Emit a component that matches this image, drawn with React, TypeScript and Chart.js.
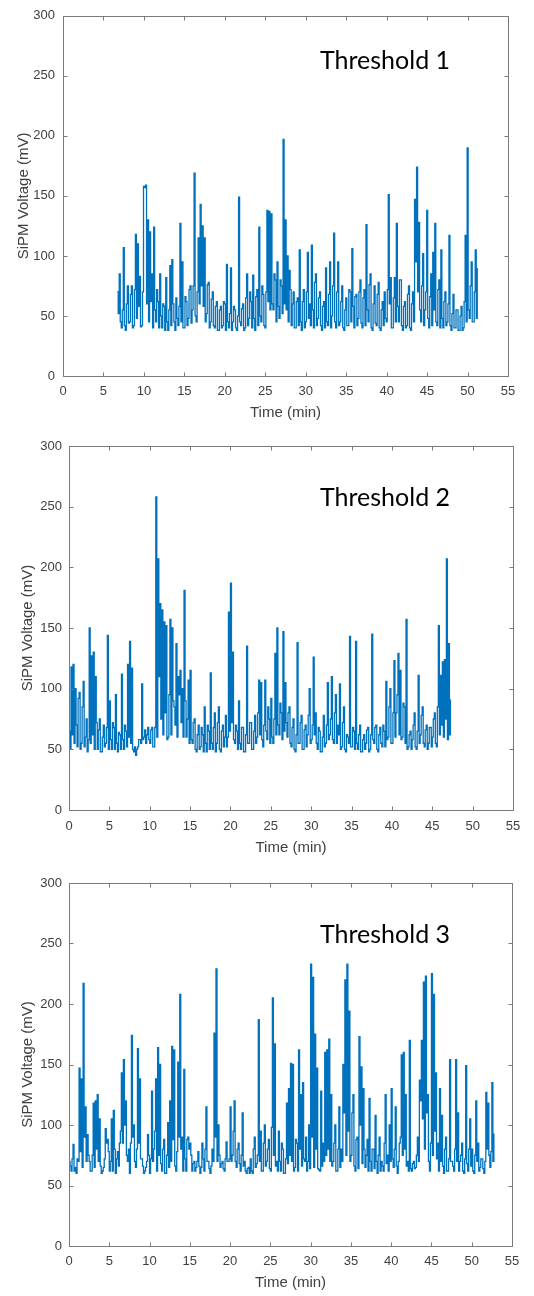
import React, { useEffect, useRef } from 'react';
import { Chart, registerables } from 'chart.js';

Chart.register(...registerables);

// ---------- data ----------
const X_TICKS = [0, 5, 10, 15, 20, 25, 30, 35, 40, 45, 50, 55];
const Y_TICKS = [0, 50, 100, 150, 200, 250, 300];
const X_TITLE = 'Time (min)';
const Y_TITLE = 'SiPM Voltage (mV)';
const PANEL_LABELS = ['Threshold 1', 'Threshold 2', 'Threshold 3'];

// sampling grid (minutes)
const SAMPLE_STEP = 0.125;
const T1_START = 6.7;
const T2_START = 0;
const T3_START = 0;

// SiPM voltage (mV), one value per sample
const T1_VALUES = [
  70, 52, 85, 45, 40, 55, 107, 42, 38, 60, 75, 44, 45, 68, 75, 40, 42, 72, 118, 48,
  110, 58, 83, 41, 42, 70, 158, 157, 159, 60, 130, 45, 120, 62, 85, 40, 124, 55, 45, 72,
  62, 40, 85, 50, 40, 60, 58, 38, 82, 45, 38, 55, 92, 42, 97, 60, 45, 38, 65, 48,
  42, 58, 127, 45, 95, 40, 40, 66, 62, 42, 48, 72, 75, 44, 55, 75, 169, 50, 45, 70,
  115, 60, 143, 75, 125, 58, 115, 45, 52, 76, 78, 40, 45, 64, 70, 42, 40, 58, 62, 38,
  38, 55, 58, 40, 42, 62, 60, 38, 93, 45, 40, 52, 90, 38, 45, 58, 55, 40, 38, 50,
  149, 45, 42, 56, 60, 38, 40, 65, 85, 42, 48, 70, 62, 40, 84, 48, 38, 66, 72, 42,
  124, 50, 45, 75, 68, 42, 40, 70, 138, 62, 137, 55, 135, 60, 55, 85, 80, 45, 95, 58,
  48, 80, 75, 52, 197, 60, 130, 55, 100, 45, 88, 72, 42, 60, 70, 40, 40, 62, 65, 42,
  105, 45, 38, 62, 72, 40, 45, 70, 103, 48, 60, 42, 109, 55, 40, 78, 85, 42, 48, 65,
  70, 42, 38, 58, 62, 40, 90, 45, 42, 68, 95, 40, 50, 75, 119, 45, 40, 70, 95, 42,
  45, 62, 75, 40, 38, 55, 65, 42, 42, 72, 70, 45, 106, 58, 40, 66, 68, 42, 48, 70,
  80, 44, 40, 65, 72, 42, 126, 55, 45, 76, 85, 40, 38, 60, 75, 44, 42, 68, 78, 40,
  38, 55, 62, 42, 70, 48, 45, 72, 151, 60, 82, 40, 40, 65, 82, 45, 127, 58, 45, 80,
  80, 42, 38, 58, 62, 40, 42, 68, 75, 40, 38, 60, 70, 45, 147, 95, 174, 70, 128, 55,
  45, 75, 102, 42, 55, 70, 138, 48, 40, 66, 85, 42, 103, 55, 127, 45, 42, 72, 80, 40,
  105, 48, 40, 62, 70, 42, 45, 60, 117, 42, 38, 52, 68, 40, 40, 55, 55, 38, 38, 50,
  58, 38, 40, 62, 117, 45, 190, 55, 48, 75, 95, 45, 45, 70, 105, 48, 90,
];

const T2_VALUES = [
  65, 50, 118, 62, 120, 55, 100, 70, 52, 92, 97, 50, 55, 85, 106, 52, 60, 75, 48, 58,
  150, 55, 127, 62, 130, 50, 110, 72, 50, 66, 75, 48, 48, 60, 70, 52, 55, 68, 144, 50,
  90, 58, 50, 72, 68, 50, 95, 55, 48, 64, 62, 50, 112, 58, 50, 70, 65, 52, 120, 60,
  139, 55, 117, 50, 48, 52, 45, 50, 52, 58, 58, 55, 104, 58, 60, 66, 55, 62, 68, 58,
  55, 66, 68, 52, 52, 68, 258, 60, 207, 110, 170, 75, 165, 62, 155, 80, 152, 58, 60, 95,
  157, 62, 150, 90, 85, 70, 137, 60, 110, 95, 115, 72, 100, 60, 181, 90, 60, 75, 107, 55,
  115, 58, 55, 72, 75, 50, 48, 62, 70, 50, 52, 68, 62, 48, 85, 55, 48, 70, 65, 50,
  113, 55, 50, 68, 80, 48, 55, 72, 85, 50, 48, 65, 70, 52, 60, 78, 52, 60, 163, 65,
  187, 72, 130, 58, 55, 70, 65, 50, 90, 55, 50, 68, 68, 48, 48, 62, 135, 55, 55, 72,
  72, 50, 50, 65, 78, 55, 60, 80, 107, 62, 105, 58, 52, 70, 107, 65, 58, 85, 75, 55,
  92, 60, 55, 75, 129, 62, 150, 70, 62, 88, 80, 58, 147, 65, 105, 72, 60, 80, 85, 55,
  52, 68, 75, 50, 48, 62, 138, 55, 55, 72, 78, 50, 50, 66, 70, 52, 62, 78, 100, 55,
  58, 70, 126, 62, 80, 55, 50, 68, 65, 48, 48, 60, 78, 52, 55, 70, 105, 58, 62, 75,
  110, 58, 55, 80, 95, 55, 70, 62, 104, 50, 52, 72, 85, 50, 48, 62, 60, 55, 143, 52,
  52, 68, 65, 50, 139, 55, 50, 62, 70, 48, 48, 58, 62, 50, 55, 66, 68, 48, 50, 62,
  145, 58, 55, 68, 70, 50, 48, 62, 68, 55, 52, 70, 65, 52, 106, 58, 60, 85, 100, 55,
  55, 80, 123, 60, 80, 95, 129, 62, 115, 58, 60, 88, 85, 55, 157, 50, 52, 62, 65, 50,
  58, 70, 80, 52, 50, 65, 111, 55, 62, 78, 85, 55, 52, 66, 70, 50, 55, 68, 68, 52,
  60, 75, 80, 55, 52, 85, 152, 62, 111, 70, 122, 60, 124, 75, 207, 58, 137, 62, 91,
];

const T3_VALUES = [
  70, 66, 62, 72, 84, 62, 65, 60, 72, 70, 147, 78, 138, 65, 217, 90, 115, 70, 92, 75,
  70, 62, 62, 75, 118, 65, 120, 80, 125, 70, 105, 66, 60, 62, 65, 72, 97, 85, 88, 78,
  62, 70, 105, 62, 112, 80, 60, 72, 78, 66, 85, 95, 143, 85, 154, 100, 120, 75, 70, 80,
  60, 85, 174, 90, 100, 70, 65, 80, 163, 85, 138, 72, 72, 66, 60, 62, 65, 70, 92, 75,
  60, 72, 128, 70, 80, 95, 138, 62, 164, 75, 150, 68, 62, 80, 88, 60, 60, 75, 102, 65,
  120, 70, 165, 88, 162, 66, 62, 78, 152, 90, 208, 80, 90, 62, 146, 72, 62, 88, 90, 80,
  85, 75, 62, 68, 70, 62, 65, 70, 78, 66, 60, 65, 85, 72, 62, 80, 115, 70, 70, 64,
  60, 66, 80, 70, 176, 90, 229, 70, 100, 75, 65, 68, 70, 64, 62, 72, 86, 70, 70, 72,
  115, 70, 75, 95, 120, 70, 65, 80, 85, 68, 62, 75, 110, 66, 70, 62, 60, 64, 65, 60,
  72, 62, 60, 80, 90, 65, 68, 75, 187, 70, 95, 62, 62, 85, 100, 66, 70, 80, 88, 64,
  62, 98, 205, 75, 167, 66, 70, 62, 95, 70, 62, 85, 80, 60, 60, 72, 118, 68, 130, 75,
  151, 70, 150, 62, 65, 88, 85, 62, 162, 80, 125, 66, 135, 72, 70, 90, 62, 70, 100, 64,
  233, 90, 222, 65, 175, 80, 147, 64, 63, 62, 128, 66, 85, 70, 160, 75, 162, 80, 171, 70,
  125, 66, 70, 85, 100, 62, 62, 80, 115, 65, 80, 70, 150, 110, 220, 75, 233, 95, 194, 70,
  75, 110, 125, 66, 62, 88, 90, 64, 173, 100, 148, 68, 130, 80, 65, 75, 88, 62, 122, 70,
  62, 80, 80, 64, 108, 70, 60, 75, 90, 62, 70, 66, 62, 85, 125, 68, 75, 62, 100, 70,
  130, 72, 65, 80, 115, 66, 60, 70, 85, 90, 158, 75, 160, 80, 125, 66, 70, 62, 170, 64,
  62, 68, 70, 64, 65, 75, 90, 70, 137, 120, 170, 105, 218, 80, 223, 110, 125, 70, 62, 85,
  225, 75, 208, 95, 143, 72, 85, 62, 130, 70, 108, 66, 60, 80, 90, 62, 62, 72, 154, 70,
  70, 66, 62, 80, 154, 70, 110, 62, 70, 75, 85, 62, 60, 72, 149, 68, 62, 80, 105, 66,
  80, 62, 60, 75, 120, 70, 85, 62, 65, 72, 72, 64, 60, 70, 127, 80, 118, 75, 65, 78,
  135, 70, 93,
];

// ---------- styling / layout ----------
const LINE_COLOR = '#0072BD';
const AXIS_COLOR = '#7a7a7a';
const TEXT_COLOR = '#404040';
const TICK_FONT = "'Liberation Sans', Arial, sans-serif";
const LABEL_FONT = "Lato, 'Open Sans', sans-serif";

const PANELS = [
  { top: 0, height: 430, yAxisW: 63, padRight: 26, padTop: 12, xAxisH: 54, xTickPad: 8, xTitlePad: 8, yTickPad: 8, yTitlePad: 15, labelX: 320, labelY: 69, label: PANEL_LABELS[0], start: T1_START, values: T1_VALUES },
  { top: 430, height: 430, yAxisW: 69, padRight: 21, padTop: 16, xAxisH: 50, xTickPad: 9, xTitlePad: 3, yTickPad: 7, yTitlePad: 19, labelX: 320, labelY: 76, label: PANEL_LABELS[1], start: T2_START, values: T2_VALUES },
  { top: 860, height: 436, yAxisW: 69, padRight: 22, padTop: 23, xAxisH: 50, xTickPad: 8, xTitlePad: 4, yTickPad: 7, yTitlePad: 19, labelX: 320, labelY: 83, label: PANEL_LABELS[2], start: T3_START, values: T3_VALUES },
];

const framePlugin = {
  id: 'frame',
  afterDatasetsDraw(chart: any, _args: any, opts: any) {
    const { ctx, chartArea } = chart;
    const { left, right, top, bottom } = chartArea;
    const xs = chart.scales.x;
    const ys = chart.scales.y;
    const r = (v: number) => Math.round(v) + 0.5;
    const tl = 4;
    ctx.save();
    ctx.strokeStyle = AXIS_COLOR;
    ctx.lineWidth = 1;
    ctx.beginPath();
    ctx.rect(r(left), r(top), Math.round(right) - Math.round(left), Math.round(bottom) - Math.round(top));
    X_TICKS.forEach((v) => {
      const px = r(xs.getPixelForValue(v));
      ctx.moveTo(px, r(bottom)); ctx.lineTo(px, r(bottom) - tl);
      ctx.moveTo(px, r(top)); ctx.lineTo(px, r(top) + tl);
    });
    Y_TICKS.forEach((v) => {
      const py = r(ys.getPixelForValue(v));
      ctx.moveTo(r(left), py); ctx.lineTo(r(left) + tl, py);
      ctx.moveTo(r(right), py); ctx.lineTo(r(right) - tl, py);
    });
    ctx.stroke();
    ctx.fillStyle = '#000000';
    ctx.font = `25px ${LABEL_FONT}`;
    ctx.textBaseline = 'alphabetic';
    ctx.textAlign = 'left';
    ctx.fillText(opts.label, opts.labelX, opts.labelY);
    ctx.restore();
  },
};

function Panel({ cfg }: { cfg: typeof PANELS[number] }) {
  const ref = useRef<HTMLCanvasElement | null>(null);
  useEffect(() => {
    if (!ref.current) return;
    const points = cfg.values.map((v, i) => ({ x: cfg.start + i * SAMPLE_STEP, y: v }));
    const chart = new Chart(ref.current, {
      type: 'line',
      data: {
        datasets: [{
          data: points,
          borderColor: LINE_COLOR,
          backgroundColor: LINE_COLOR,
          borderWidth: 1.3,
          pointRadius: 0,
          stepped: true,
          fill: false,
          tension: 0,
        }],
      },
      options: {
        responsive: false,
        animation: false,
        events: [],
        layout: { padding: { left: 0, right: cfg.padRight, top: cfg.padTop, bottom: 0 } },
        plugins: {
          legend: { display: false },
          tooltip: { enabled: false },
          frame: { label: cfg.label, labelX: cfg.labelX, labelY: cfg.labelY },
        } as any,
        scales: {
          x: {
            type: 'linear',
            min: 0,
            max: 55,
            afterBuildTicks: (s: any) => { s.ticks = X_TICKS.map((v) => ({ value: v })); },
            afterFit: (s: any) => { s.height = cfg.xAxisH; },
            grid: { display: false, drawTicks: false },
            border: { display: false },
            ticks: { autoSkip: false, maxRotation: 0, padding: cfg.xTickPad, color: TEXT_COLOR, font: { family: TICK_FONT, size: 13 } },
            title: { display: true, text: X_TITLE, color: TEXT_COLOR, font: { family: TICK_FONT, size: 15 }, padding: { top: 0, bottom: cfg.xTitlePad } },
          },
          y: {
            type: 'linear',
            min: 0,
            max: 300,
            afterBuildTicks: (s: any) => { s.ticks = Y_TICKS.map((v) => ({ value: v })); },
            afterFit: (s: any) => { s.width = cfg.yAxisW; },
            grid: { display: false, drawTicks: false },
            border: { display: false },
            ticks: { autoSkip: false, padding: cfg.yTickPad, color: TEXT_COLOR, font: { family: TICK_FONT, size: 13 } },
            title: { display: true, text: Y_TITLE, color: TEXT_COLOR, font: { family: TICK_FONT, size: 15 }, padding: { top: cfg.yTitlePad, bottom: 0 } },
          },
        },
      } as any,
      plugins: [framePlugin as any],
    });
    return () => chart.destroy();
  }, [cfg]);
  return (
    <div style={{ position: 'absolute', left: 0, top: cfg.top, width: 534, height: cfg.height }}>
      <canvas ref={ref} width={534} height={cfg.height} style={{ display: 'block', width: 534, height: cfg.height }} />
    </div>
  );
}

export default function App() {
  return (
    <div style={{ position: 'absolute', left: 0, top: 0, width: 534, height: 1296, background: '#ffffff', overflow: 'hidden' }}>
      {PANELS.map((p, i) => <Panel key={i} cfg={p} />)}
    </div>
  );
}
